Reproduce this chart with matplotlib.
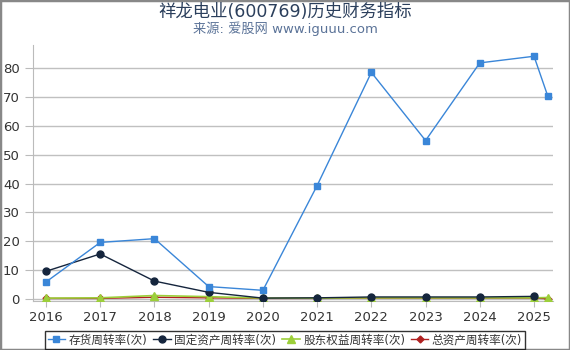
import matplotlib
matplotlib.use("Agg")
import matplotlib.pyplot as plt
import numpy as np
from matplotlib.patches import Rectangle

plt.rcParams['font.family'] = ['DejaVu Sans', 'Noto Sans CJK SC']

x_vals = [2016, 2017, 2018, 2019, 2020, 2021, 2022, 2023, 2024, 2025, 2025.25]
tick_years = [2016, 2017, 2018, 2019, 2020, 2021, 2022, 2023, 2024, 2025]
inventory = [5.9, 19.6, 20.9, 4.3, 3.0, 39.3, 78.5, 54.9, 81.8, 84.1, 70.5]
fixed_assets = [9.6, 15.6, 6.2, 2.3, 0.3, 0.4, 0.7, 0.7, 0.7, 0.9, np.nan]
equity = [0.3, 0.4, 1.2, 0.8, 0.3, 0.3, 0.4, 0.4, 0.4, 0.4, 0.5]
total_assets = [0.2, 0.2, 0.6, 0.4, 0.2, 0.2, 0.3, 0.3, 0.3, 0.3, 0.1]
names = ['存货周转率(次)', '固定资产周转率(次)', '股东权益周转率(次)', '总资产周转率(次)']

fig = plt.figure(figsize=(5.7, 3.5), dpi=100)
ax = fig.add_axes([33/570, 1-301/350, 520/570, 256/350])

ax.plot(x_vals, inventory, color='#3a86d8', marker='s', markersize=5, lw=1, label=names[0], zorder=5)
ax.plot(x_vals, fixed_assets, color='#15253d', marker='o', markersize=5, lw=1, label=names[1], zorder=4)
ax.plot(x_vals, equity, color='#9ccf3a', marker='^', markersize=5.5, lw=1.2, label=names[2], zorder=3)
ax.plot(x_vals, total_assets, color='#b02020', marker='D', markersize=3.5, lw=1, label=names[3], zorder=2)

ax.set_xlim(2015.76, 2025.35)
ax.set_ylim(-0.7, 88)
ax.set_xticks(tick_years)
ax.set_xticklabels([str(y) for y in tick_years])
ax.set_yticks([0, 10, 20, 30, 40, 50, 60, 70, 80])
ax.yaxis.grid(True, color='#c0c0c0', lw=1)
ax.set_axisbelow(True)
for s in ['top', 'right']:
    ax.spines[s].set_visible(False)
ax.spines['left'].set_color('#bbbbbb')
ax.spines['bottom'].set_color('#bbbbbb')
ax.tick_params(axis='both', colors='#bbbbbb', labelcolor='#333333', labelsize=9.5, length=4)
ax.tick_params(axis='y', length=6)

fig.text(0.5, 1-12/350, '祥龙电业(600769)历史财务指标', ha='center', va='center', fontsize=12.5, color='#2b3f5c')
fig.text(0.5, 1-29/350, '来源: 爱股网 www.iguuu.com', ha='center', va='center', fontsize=9.5, color='#5b7398')

leg = fig.legend(loc='center', bbox_to_anchor=(0.5, 1-340/350), ncol=4, fontsize=8.4,
                 frameon=True, fancybox=False, edgecolor='#000000', handlelength=1.5,
                 handletextpad=0.3, columnspacing=0.5, borderpad=0.2, borderaxespad=0)
leg.get_frame().set_linewidth(1)
for t in leg.get_texts():
    t.set_color('#333333')

fig.patches.append(Rectangle((0, 0), 1, 1, transform=fig.transFigure, fill=False, edgecolor='#888888', lw=2.5))

fig.savefig('out.png', dpi=100)
